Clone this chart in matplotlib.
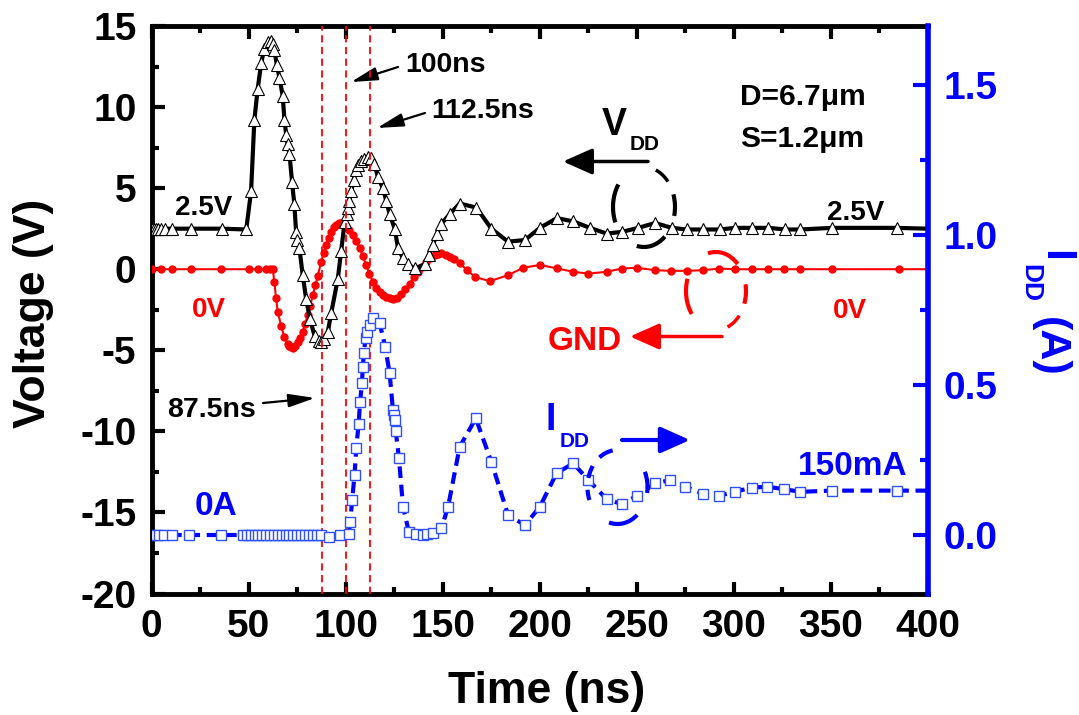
import matplotlib
matplotlib.use('Agg')
import matplotlib.pyplot as plt
from matplotlib.patches import Arc
from matplotlib.ticker import MultipleLocator, FormatStrFormatter

W, H = 1079, 715

# ---------------- data ----------------
vdd_t = [0, 1, 2, 3, 5, 7, 10.5, 20, 36, 48.7, 51.2, 52.9, 54.6, 56.4, 58, 60, 61.5, 62.5,
         63.2, 64.5, 65.8, 67.5, 68.4, 69.3, 70, 71, 72.3, 73.5, 74.4, 75, 76.1, 77.8, 79.6,
         81.6, 83.9, 86, 87.3, 89, 90.7, 92.5, 95.9, 97.6, 99.4, 100.5, 101, 101.8, 102.8,
         104, 105.4, 106.5, 108, 109.5, 111.4, 113, 114.8, 116.5, 119.1, 120.9, 122.6, 125.2,
         126.9, 129.4, 132, 135.5, 140.6, 143, 144.9, 147, 149.3, 153.5, 158.7, 167.3, 175,
         183.6, 192.3, 200, 208.8, 217.2, 225.8, 234.4, 242.2, 250.7, 259.4, 268, 275.7,
         284.3, 292.9, 300.6, 309.2, 317.8, 326.5, 334.2, 350.5, 384.1, 400]
vdd_v = [2.5, 2.5, 2.5, 2.5, 2.5, 2.5, 2.5, 2.5, 2.5, 2.45, 4.8, 9.2, 11.1, 12.7, 13.6, 14.0, 14.1, 13.9,
         13.5, 12.6, 11.8, 10.7, 9.2, 8.3, 7.7, 7.1, 5.4, 4.0, 2.3, 1.8, 1.3, -0.35, -1.85,
         -3.1, -4.1, -4.4, -4.5, -4.3, -3.9, -2.7, -0.6, 1.1, 2.9, 3.4, 3.8, 4.2, 4.8,
         5.5, 6.1, 6.4, 6.7, 6.8, 6.95, 6.85, 6.5, 5.7, 5.0, 4.2, 3.4, 2.5,
         1.3, 0.7, 0.3, 0.05, 0.3, 0.9, 1.5, 2.2, 2.8, 3.4, 4.05, 3.8, 2.5,
         1.7, 1.8, 2.55, 3.15, 2.95, 2.55, 2.2, 2.3, 2.55, 2.85, 2.55, 2.45,
         2.45, 2.45, 2.55, 2.55, 2.55, 2.45, 2.45, 2.55, 2.55, 2.5]

gnd_t = [0, 4.7, 10.7, 20, 35.7, 50.3, 54.6, 58.9, 61, 62.4, 63.2, 64.1, 65, 66.7, 68.4, 70,
         71, 72, 73, 74, 75.3, 76.5, 77.8, 79, 80.4, 81.7, 83, 84.3, 85.6, 87.3, 88.6, 89.9,
         91.2, 92.5, 93.8, 95.1, 96.3, 97.6, 98.9, 100.2, 101.9, 103.6, 105.3, 107.1, 108.8,
         110.5, 112.2, 114, 115.7, 117.4, 119.1, 120.9, 122.6, 124.3, 126.4, 128.6, 130.7,
         132.9, 135, 137.2, 139.3, 141.5, 143.6, 145.8, 147.5, 149.3, 151.4, 153.5, 156,
         158.7, 162.5, 166.5, 174.2, 183.6, 191.4, 200, 208.6, 217.2, 225, 234.4, 242.2,
         249.9, 259.4, 267.4, 275.7, 284.3, 292.5, 300.6, 309.2, 317.8, 326, 334.2, 350.5,
         384.9, 400]
gnd_v = [0, 0, 0, 0, 0, 0, 0, 0, 0, 0, -0.8, -1.8, -2.65, -3.5, -4.2, -4.6,
         -4.75, -4.82, -4.85, -4.75, -4.5, -4.25, -3.9, -3.4, -2.85, -2.25, -1.6, -1.0, -0.4, 0.45, 1.0, 1.5,
         1.95, 2.3, 2.6, 2.75, 2.82, 2.85, 2.8, 2.65, 2.4, 2.1, 1.75, 1.3, 0.8,
         0.25, -0.3, -0.8, -1.15, -1.4, -1.6, -1.72, -1.8, -1.83, -1.75, -1.5, -1.2,
         -0.9, -0.5, -0.15, 0.15, 0.45, 0.7, 0.88, 0.95, 0.98, 0.9, 0.77, 0.6,
         0.36, -0.05, -0.47, -0.74, -0.37, 0.09, 0.26, 0.06, -0.16, -0.27, -0.16, 0.04,
         0.09, -0.06, -0.1, -0.1, -0.06, 0.04, 0, 0, 0, 0, 0, 0,
         0, 0]

idd_t = [0, 2, 4, 6.5, 10.7, 19.4, 35.7, 47, 49, 51, 53, 55, 57, 59, 61, 63, 65, 67, 69, 71,
         73, 75, 77, 79, 81, 83, 85, 87, 91.6, 96.8, 101.5, 102.3, 103.3, 104.5, 105.4, 106.6,
         107.4, 108.3, 108.8, 109.3, 110.2, 110.9, 112.3, 114, 117.4, 120.3, 122.6, 124.3,
         124.6, 125.2, 125.7, 127.4, 129.5, 132.5, 136, 139.8, 142, 144.9, 149.3, 152.7,
         158.7, 167, 175, 183.6, 192.3, 200, 208.6, 217.2, 225, 234.4, 242.2, 249.9, 259.4,
         267.1, 274.8, 284.3, 292.4, 300.3, 309.3, 317, 325.8, 334.2, 350.5, 384, 400]
idd_a = [0, 0, 0, 0, 0, 0, 0, 0, 0, 0, 0, 0, 0, 0, 0, 0, 0, 0, 0, 0,
         0, 0, 0, 0, 0, 0, 0, 0, -0.005, 0, 0.003, 0.044, 0.117, 0.2, 0.289, 0.37,
         0.444, 0.506, 0.561, 0.606, 0.656, 0.678, 0.70, 0.722, 0.708, 0.628, 0.539, 0.417,
         0.40, 0.383, 0.348, 0.256, 0.094, 0.011, 0.003, 0, 0.002, 0.006, 0.022, 0.094,
         0.294, 0.389, 0.244, 0.067, 0.033, 0.094, 0.206, 0.239, 0.183, 0.12, 0.103, 0.13, 0.172,
         0.183, 0.161, 0.137, 0.131, 0.144, 0.158, 0.161, 0.153, 0.144, 0.148, 0.148, 0.148]

marker_times = [87.5, 100, 112.5]
x_ticks = [0, 50, 100, 150, 200, 250, 300, 350, 400]
v_ticks = [-20, -15, -10, -5, 0, 5, 10, 15]
i_ticks = [0.0, 0.5, 1.0, 1.5]

# ---------------- style ----------------
plt.rcParams['font.family'] = ['Liberation Sans', 'DejaVu Sans']
plt.rcParams['font.weight'] = 'bold'
plt.rcParams['axes.unicode_minus'] = False

fig = plt.figure(figsize=(W / 100, H / 100), dpi=100)
L, R, T, B = 151.7, 928, 26, 593.5
ax = fig.add_axes([L / W, 1 - B / H, (R - L) / W, (B - T) / H])
ax2 = ax.twinx()

def fp(x, y):
    return (x, H - y)

def ftext(x, y, s, **kw):
    kw.setdefault('ha', 'left')
    kw.setdefault('va', 'baseline')
    kw.setdefault('fontweight', 'bold')
    fig.text(x / W, 1 - y / H, s, **kw)

# curves
ax.plot(vdd_t, vdd_v, color='black', lw=3, marker='^', ms=9, mfc='white', mec='black',
        mew=0.8, markevery=slice(0, len(vdd_t) - 1), zorder=4)
ax.plot(gnd_t, gnd_v, color='red', lw=1.5, marker='o', ms=5, mfc='red', mec='red',
        markevery=slice(0, len(gnd_t) - 1), zorder=3)
ax2.plot(idd_t, idd_a, color='blue', lw=3, ls=(0, (2.8, 1.6)), marker='s', ms=7,
         mfc='white', mec='#3050ff', mew=1.0, markevery=slice(0, len(idd_t) - 1), zorder=3)

for t in marker_times:
    ax.axvline(t, color='red', lw=1.3, ls=(0, (4, 2.5)), zorder=5)

ax.set_xlim(0, 400)
ax.set_ylim(-20, 15)
ax2.set_ylim(-0.195, 1.697)

ax.set_xticks(x_ticks)
ax.set_yticks(v_ticks)
ax.xaxis.set_minor_locator(MultipleLocator(25))
ax.yaxis.set_minor_locator(MultipleLocator(2.5))
ax2.set_yticks(i_ticks)
ax2.yaxis.set_minor_locator(MultipleLocator(0.25))
ax2.yaxis.set_major_formatter(FormatStrFormatter('%.1f'))

ax.tick_params(which='both', direction='in', top=True, right=False, width=3,
               labelsize=28, pad=11)
ax.tick_params(which='major', length=9)
ax.tick_params(which='minor', length=5)
ax2.tick_params(axis='y', which='both', direction='in', colors='blue', width=3,
                labelsize=28, pad=11)
ax2.tick_params(axis='y', which='major', length=11)
ax2.tick_params(axis='y', which='minor', length=6)

for s in ax.spines.values():
    s.set_linewidth(3.5)
ax.spines['right'].set_visible(False)
for k in ['left', 'top', 'bottom']:
    ax2.spines[k].set_visible(False)
ax2.spines['right'].set_color('blue')
ax2.spines['right'].set_linewidth(4)

# axis labels
fig.text(34 / W, 1 - 313.5 / H, 'Voltage (V)', rotation=90, ha='center', va='center',
         fontsize=32, fontweight='bold')
ftext(546.7, 703, 'Time (ns)', ha='center', fontsize=32)
fig.text(1054.7 / W, 1 - 256 / H, 'I', rotation=270, ha='center', va='center',
         fontsize=31, fontweight='bold', color='blue')
fig.text(1030 / W, 1 - 283 / H, 'DD', rotation=270, ha='center', va='center',
         fontsize=19, fontweight='bold', color='blue')
fig.text(1050 / W, 1 - 347 / H, '(A)', rotation=270, ha='center', va='center',
         fontsize=31, fontweight='bold', color='blue')

# annotations
ftext(405, 71.7, '100ns', fontsize=20.5)
ftext(431.7, 118.3, '112.5ns', fontsize=20.5)
ftext(166.7, 416.7, '87.5ns', fontsize=20.5)
ftext(175, 215, '2.5V', fontsize=20)
ftext(826.7, 220, '2.5V', fontsize=20)
ftext(191.7, 316.7, '0V', fontsize=20, color='red')
ftext(833, 318, '0V', fontsize=20, color='red')
ftext(195, 515, '0A', fontsize=24, color='blue')
ftext(798, 475, '150mA', fontsize=24, color='blue')
ftext(740, 105, 'D=6.7\u03bcm', fontsize=21.5)
ftext(740, 146.7, 'S=1.2\u03bcm', fontsize=21.5)
ftext(548, 350, 'GND', fontsize=24, color='red')
ftext(602, 135, 'V', fontsize=27)
ftext(630, 150, 'DD', fontsize=15)
ftext(546, 430, 'I', fontsize=27, color='blue')
ftext(560, 447, 'DD', fontsize=15, color='blue')

def arrow(tail, head, color, lw, hl=0.9, hw=0.4, ms=20, cs='arc3,rad=0'):
    ax.annotate('', xy=fp(*head), xycoords='figure pixels',
                xytext=fp(*tail), textcoords='figure pixels',
                arrowprops=dict(arrowstyle=f'-|>,head_length={hl},head_width={hw}',
                                color=color, lw=lw, mutation_scale=ms,
                                shrinkA=0, shrinkB=0, connectionstyle=cs),
                annotation_clip=False)

arrow((398, 67), (351, 82), 'black', 1.6, hl=0.8, hw=0.2)
arrow((425, 113), (377, 128), 'black', 1.6, hl=0.8, hw=0.2)
arrow((263, 403), (315, 398), 'black', 1.6, hl=0.8, hw=0.2)
arrow((648, 161.5), (563, 161.5), 'black', 2.5)
arrow((722, 336.5), (630, 336.5), 'red', 2.5)
arrow((622, 440), (690, 440), 'blue', 3)

def arcs(cx, cy, w, h, segs, color, lw=3):
    for a, b in segs:
        arc = Arc((cx / W, 1 - cy / H), w / W, h / H, theta1=a, theta2=b,
                  transform=fig.transFigure, color=color, lw=lw)
        fig.add_artist(arc)

arcs(644, 207, 62, 80, [(127, 219), (-24, 33), (263, 295)], 'black')
arcs(644, 207, 62, 80, [(58, 78)], 'black', lw=2.5)   # arrow tail hook
arcs(716, 291, 60, 78, [(62, 98), (-34, 19), (147, 235)], 'red')
arcs(716, 291, 60, 78, [(-78, -58)], 'red', lw=2.5)   # arrow tail hook
arcs(617.5, 487, 60, 74, [(128, 155), (188, 215), (-17, 40), (261, 295)], 'blue')
arcs(617.5, 487, 60, 74, [(95, 112)], 'blue', lw=3)   # arrow tail hook

fig.savefig('out.png', dpi=100)
